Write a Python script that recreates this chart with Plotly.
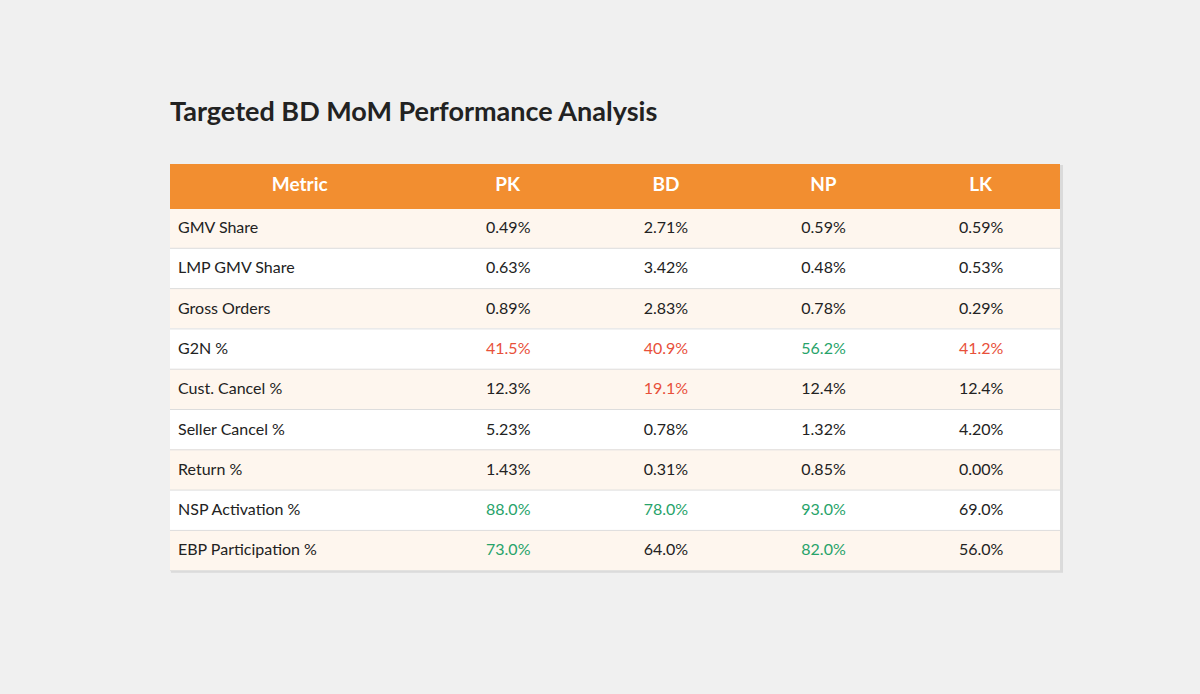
import plotly.graph_objects as go

# table content
metrics = ["GMV Share", "LMP GMV Share", "Gross Orders", "G2N %", "Cust. Cancel %",
           "Seller Cancel %", "Return %", "NSP Activation %", "EBP Participation %"]
markets = ["PK", "BD", "NP", "LK"]
pk = ["0.49%", "0.63%", "0.89%", "41.5%", "12.3%", "5.23%", "1.43%", "88.0%", "73.0%"]
bd = ["2.71%", "3.42%", "2.83%", "40.9%", "19.1%", "0.78%", "0.31%", "78.0%", "64.0%"]
np_ = ["0.59%", "0.48%", "0.78%", "56.2%", "12.4%", "1.32%", "0.85%", "93.0%", "82.0%"]
lk = ["0.59%", "0.53%", "0.29%", "41.2%", "12.4%", "4.20%", "0.00%", "69.0%", "56.0%"]

# status per cell: 0 normal, 1 bad (red), 2 good (green)
pk_flag = [0, 0, 0, 1, 0, 0, 0, 2, 2]
bd_flag = [0, 0, 0, 1, 1, 0, 0, 2, 0]
np_flag = [0, 0, 0, 2, 0, 0, 0, 2, 2]
lk_flag = [0, 0, 0, 1, 0, 0, 0, 0, 0]

ORANGE = "#F28E30"
CREAM = "#FEF6EE"
TXT = "#222222"
RED = "#E8503A"
GREEN = "#27A36A"
BG = "#F0F0F0"
flag_col = {0: TXT, 1: RED, 2: GREEN}
FONT = "Lato"

W, H = 1200, 694
x0, x1 = 170, 1061
top = 164
head_h = 44
row_h = 40.3
n = len(metrics)
bottom = top + head_h + row_h * n
colw = [260, 158, 158, 158, 158]

# plotly puts cell text near the top, so the text layer is nudged down
dyh = 0   # header text shift
dyc = 5   # body text shift

row_fill = [CREAM if i % 2 == 0 else "white" for i in range(n)]
font_colors = [[TXT] * n] + [[flag_col[f] for f in fl] for fl in (pk_flag, bd_flag, np_flag, lk_flag)]
blank = [[""] * n for _ in range(5)]

# background layer: fills only
bg_table = go.Table(
    domain=dict(x=[x0 / W, x1 / W], y=[1 - (bottom + 1) / H, 1 - top / H]),
    columnwidth=colw,
    header=dict(values=[""] * 5, fill_color=ORANGE,
                line=dict(width=1, color=ORANGE), height=head_h),
    cells=dict(values=blank, fill_color=[row_fill] * 5,
               line=dict(width=1, color=[row_fill] * 5), height=row_h),
)

# text layer: transparent, shifted
txt_table = go.Table(
    domain=dict(x=[x0 / W, x1 / W], y=[1 - (bottom + dyc + 4) / H, 1 - (top + dyh) / H]),
    columnwidth=colw,
    header=dict(
        values=["<b>Metric</b>"] + ["<b>%s</b>" % m for m in markets],
        fill_color="rgba(0,0,0,0)",
        line=dict(width=0, color="rgba(0,0,0,0)"),
        font=dict(color="white", size=19, family=FONT),
        align="center",
        height=head_h + dyc - dyh,
    ),
    cells=dict(
        values=[metrics, pk, bd, np_, lk],
        fill_color="rgba(0,0,0,0)",
        line=dict(width=0, color="rgba(0,0,0,0)"),
        font=dict(color=font_colors, size=16, family=FONT),
        align=["left", "center", "center", "center", "center"],
        height=row_h,
    ),
)

fig = go.Figure([bg_table, txt_table])

shapes = []
# soft shadow behind the table
shapes.append(dict(type="rect", xref="paper", yref="paper", layer="below",
                   x0=(x0 + 1) / W, x1=(x1 + 2) / W, y0=1 - (bottom + 2) / H, y1=1 - (top + 1) / H,
                   fillcolor="#DADADA", line=dict(width=0)))
# horizontal row separators
for i in range(n):
    yy = 1 - (top + head_h + row_h * (i + 1)) / H
    shapes.append(dict(type="line", xref="paper", yref="paper", x0=x0 / W, x1=x1 / W,
                       y0=yy, y1=yy, line=dict(color="#DDDDDD", width=1)))
# right edge
shapes.append(dict(type="line", xref="paper", yref="paper", x0=x1 / W, x1=x1 / W,
                   y0=1 - bottom / H, y1=1 - (top + head_h) / H, line=dict(color="#DCDCDC", width=1)))

fig.update_layout(
    width=W, height=H,
    margin=dict(l=0, r=0, t=0, b=0),
    paper_bgcolor=BG,
    plot_bgcolor=BG,
    shapes=shapes,
    title=dict(text="<b>Targeted BD MoM Performance Analysis</b>",
               x=x0 / W, xanchor="left", y=1 - 112 / H, yanchor="middle",
               font=dict(size=27, color=TXT, family=FONT)),
)

fig.write_html("out.html", config={"displayModeBar": False},
               post_script="document.body.style.margin='0';document.body.style.background='%s';" % BG)
